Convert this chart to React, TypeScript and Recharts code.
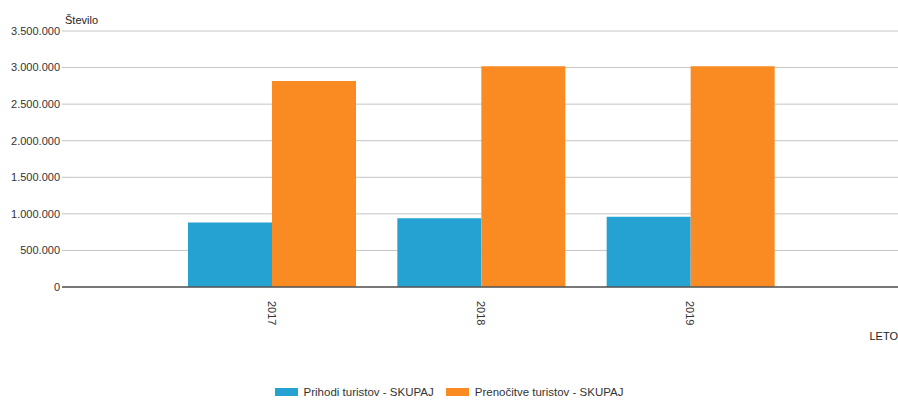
import React from 'react';
import { BarChart, Bar, XAxis, YAxis, CartesianGrid, Legend, Label } from 'recharts';

const years = ['2017', '2018', '2019'];
const arrivals = [882000, 939000, 961000];
const overnights = [2816000, 3018000, 3019000];
const yTicks = [0, 500000, 1000000, 1500000, 2000000, 2500000, 3000000, 3500000];
const seriesNames = ['Prihodi turistov - SKUPAJ', 'Prenočitve turistov - SKUPAJ'];
const colors = ['#26a2d2', '#fa8a22'];

const data = years.map((y, i) => ({ year: y, a: arrivals[i], b: overnights[i] }));

const FONT = 'Liberation Sans, Arial, sans-serif';

const fmt = (v: number) => String(v).replace(/\B(?=(\d{3})+(?!\d))/g, '.');

const XTick = (props: any) => {
  const { x, y, payload } = props;
  return (
    <text
      x={x}
      y={y + 6}
      transform={`rotate(90, ${x}, ${y + 6})`}
      textAnchor="start"
      dominantBaseline="central"
      fontSize={11}
      fontFamily={FONT}
      fill="#333"
    >
      {payload.value}
    </text>
  );
};

const LegendContent = (props: any) => {
  const payload = [...(props.payload || [])].sort(
    (p: any, q: any) => seriesNames.indexOf(p.value) - seriesNames.indexOf(q.value)
  );
  return (
    <div style={{ display: 'flex', justifyContent: 'center', alignItems: 'center', fontFamily: FONT, fontSize: 11.5, color: '#333' }}>
      {payload.map((p: any, i: number) => (
        <div key={i} style={{ display: 'flex', alignItems: 'center', marginLeft: i === 0 ? 0 : 12 }}>
          <div style={{ width: 23, height: 8, background: p.color, marginRight: 6 }} />
          <span>{p.value}</span>
        </div>
      ))}
    </div>
  );
};

export default function App() {
  return (
    <div style={{ position: 'absolute', left: 0, top: 0 }}>
      <BarChart
        width={898}
        height={401}
        data={data}
        margin={{ top: 31, right: 0, bottom: 59, left: 0 }}
        barGap={0}
        barSize={84}
      >
        <CartesianGrid vertical={false} stroke="#c4c4c4" />
        <YAxis
          width={62}
          domain={[0, 3500000]}
          ticks={yTicks}
          tickFormatter={fmt}
          axisLine={false}
          tickLine={false}
          tickSize={0}
          tickMargin={2}
          interval={0}
          tick={{ fontSize: 11, fontFamily: FONT, fill: '#333' }}
        >
          <Label
            content={(p: any) => {
              const vb = p.viewBox;
              return (
                <text x={vb.x + vb.width + 3} y={vb.y - 7} fontSize={11} fontFamily={FONT} fill="#222">
                  Število
                </text>
              );
            }}
          />
        </YAxis>
        <XAxis
          dataKey="year"
          height={55}
          padding={{ left: 105, right: 103 }}
          axisLine={{ stroke: '#555', strokeWidth: 1.5 }}
          tickLine={false}
          tick={<XTick />}
          interval={0}
        >
          <Label
            content={(p: any) => {
              const vb = p.viewBox;
              return (
                <text x={vb.x + vb.width} y={vb.y + vb.height - 2} textAnchor="end" fontSize={11} fontFamily={FONT} fill="#222">
                  LETO
                </text>
              );
            }}
          />
        </XAxis>
        <Legend
          layout="horizontal"
          verticalAlign="middle"
          align="center"
          content={<LegendContent />}
          wrapperStyle={{ position: 'absolute', top: 386, left: 0, width: 898 }}
        />
        <Bar dataKey="a" name={seriesNames[0]} fill={colors[0]} isAnimationActive={false} />
        <Bar dataKey="b" name={seriesNames[1]} fill={colors[1]} isAnimationActive={false} />
      </BarChart>
    </div>
  );
}
